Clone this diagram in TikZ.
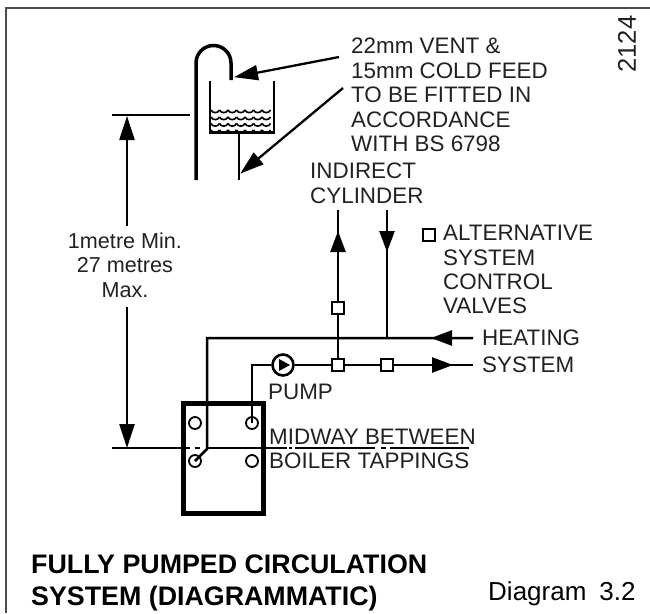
\documentclass[tikz,border=0pt]{standalone}
\usepackage{fontspec}
\setmainfont{Liberation Sans}
\usetikzlibrary{arrows.meta}
\definecolor{inktext}{gray}{0.13}
\tikzset{
    pipe/.style={line width=2.5pt,black},
    thinline/.style={line width=2.3pt,black},
    flow/.style={pipe,-{Triangle[length=21pt,width=15pt]},shorten >=-1pt},
    leader/.style={thinline,-{Triangle[length=24pt,width=15pt]},shorten >=-1pt},
    valve/.style={draw,line width=2.4pt,fill=white,minimum size=12pt,inner sep=0pt},
    tapping/.style={draw,line width=1.8pt,circle,fill=white,minimum size=12pt,inner sep=0pt},
    label/.style={text=inktext,font=\fontsize{22.4}{24.4}\selectfont,align=left,inner sep=0pt},
}
\begin{document}
\begin{tikzpicture}[x=1pt,y=-1pt]
            \useasboundingbox (0,0) rectangle (650,613);
            % frame
            \draw[line width=1.5pt,black!70] (650,8) -- (6,8) -- (6,613);

            % vent and tank
            \draw[line width=3.5pt] (196,180) -- (196,63) arc[start angle=180,end angle=0,radius=17.5pt] -- (231,80);
            \foreach \y in {110,117,123.5,130}
                \foreach \x in {211,219.5,...,265}
                    \draw[line width=1.6pt] (\x,\y) .. controls (\x+1.5,\y+3.5) and (\x+7,\y+3.5) .. (\x+8.5,\y);
            \draw[line width=2pt] (210,81) -- (210,132) -- (274,132) -- (274,81);
            \draw[line width=3pt] (209,132) -- (275,132);
            \coordinate (feedtop) at (239,132);
            \coordinate (feedend) at (239,180);
            \draw[thinline] (feedtop) -- (feedend);

            % leaders
            \coordinate (ventfrom) at (339,57);
            \coordinate (venttip) at (235,77);
            \coordinate (feedfrom) at (343,88);
            \coordinate (feedtip) at (241,173);
            \draw[leader] (ventfrom) -- (venttip);
            \draw[leader] (feedfrom) -- (feedtip);

            % height dimension
            \coordinate (headleft) at (112,115);
            \coordinate (headright) at (190,115);
            \coordinate (dimtop) at (127,117);
            \coordinate (dimupper) at (127,226);
            \coordinate (dimlower) at (127,307);
            \coordinate (dimbottom) at (127,447);
            \draw[thinline] (headleft) -- (headright);
            \draw[leader] (dimupper) -- (dimtop);
            \draw[leader] (dimlower) -- (dimbottom);

            % boiler
            \draw[line width=5pt] (183.5,403) rectangle (263.5,513);
            \node[tapping] (tapa) at (195,423) {};
            \node[tapping] (tapb) at (252,423) {};
            \node[tapping] (tapc) at (195,461) {};
            \node[tapping] (tapd) at (252,461) {};

            % midway line
            \coordinate (midleft) at (112,448);
            \coordinate (midend) at (469,448);
            \draw[thinline] (midleft) -- (190,448);
            \foreach \a/\b in {195/200,208/287,289/292,295/375,381/386,390/469}
                \draw[thinline] (\a,448) -- (\b,448);

            % pipework
            \coordinate (heatend) at (473,338);
            \coordinate (heattip) at (432,338);
            \coordinate (flowend) at (473,365);
            \coordinate (flowtip) at (452,365);
            \coordinate (cylout) at (338,210);
            \coordinate (cyltip) at (338,232);
            \coordinate (cylin) at (387,210);
            \coordinate (cylintip) at (387,251);
            \node[draw,line width=2.6pt,circle,fill=white,minimum size=21pt,inner sep=0pt] (pump) at (283,365) {};
            \draw[pipe] (tapc.center) -- (207,449) -- (207,338) -- (heatend);
            \draw[pipe] (tapb.center) -- (252,365) -- (pump);
            \draw[pipe] (pump) -- (flowend);
            \draw[pipe] (338,365) -- (cylout);
            \draw[pipe] (cylin) -- (387,338);
            \draw[flow] (heatend) -- (heattip);
            \draw[flow] (338,270) -- (cyltip);
            \draw[flow] (cylin) -- (cylintip);
            \draw[flow] (400,365) -- (flowtip);
            \fill (279,359) -- (290,365) -- (279,371) -- cycle;
            \node[valve] (valveup) at (338,308) {};
            \node[valve] (valvetee) at (338,365) {};
            \node[valve] (valveflow) at (387,365) {};
            \node[valve] (valvekey) at (429,235) {};

            % texts
            \node[label,anchor=north west] (ventnote) at (351,38) {22mm VENT \&\\15mm COLD FEED\\TO BE FITTED IN\\ACCORDANCE\\WITH BS 6798};
            \node[label,anchor=north west] (cylnote) at (310,163) {INDIRECT\\CYLINDER};
            \node[label,anchor=north west] (keynote) at (443,225) {ALTERNATIVE\\SYSTEM\\CONTROL\\VALVES};
            \node[label,anchor=north west] (heatnote) at (482,330) {HEATING};
            \node[label,anchor=north west] (sysnote) at (482,357) {SYSTEM};
            \node[label,anchor=north west] (pumpnote) at (268,384) {PUMP};
            \node[label,align=center,font=\fontsize{21.6}{24.4}\selectfont] (dimnote) at (125,265) {1metre Min.\\27 metres\\Max.};
            \node[label,anchor=north west] (midnote) at (269,429) {MIDWAY BETWEEN};
            \node[label,anchor=north west] (tapnote) at (269,453) {BOILER TAPPINGS};
            \node[label,rotate=90,font=\fontsize{25.6}{28}\selectfont] (drawno) at (627,44) {2124};
            \node[label,anchor=north west,text=black,font=\fontsize{26.8}{32}\bfseries] (title) at (31,555) {FULLY PUMPED CIRCULATION\\SYSTEM (DIAGRAMMATIC)};
            \node[label,anchor=north west,text=black,font=\fontsize{26}{32}\selectfont] (diagno) at (488,581) {Diagram\hspace{13pt}3.2};
\end{tikzpicture}
\end{document}
